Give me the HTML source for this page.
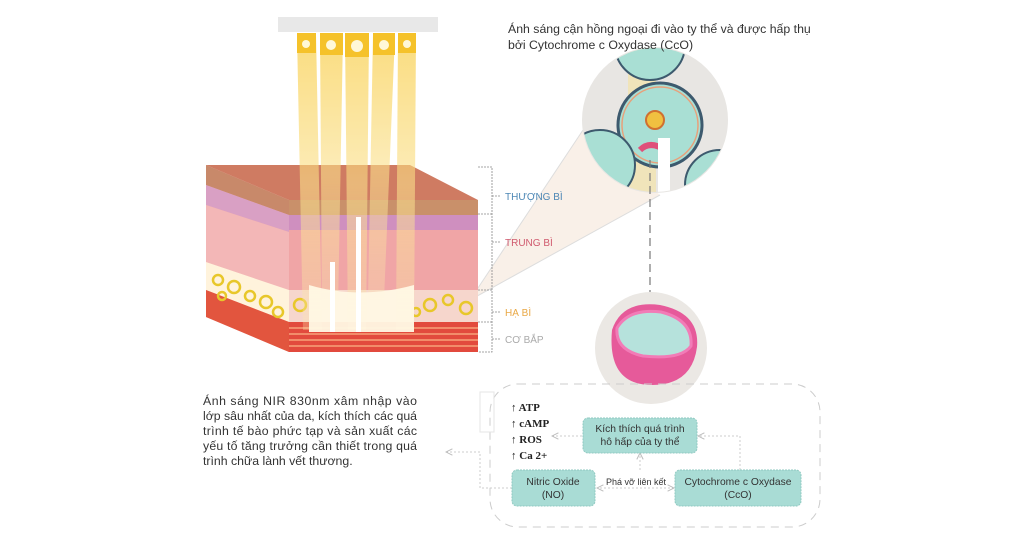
<!DOCTYPE html>
<html><head><meta charset="utf-8"><style>
html,body{margin:0;padding:0;background:#fff;width:1024px;height:541px;overflow:hidden}
svg{display:block}
.t{font-family:"Liberation Sans","DejaVu Sans",sans-serif}
</style></head><body>
<svg width="1024" height="541" viewBox="0 0 1024 541" xmlns="http://www.w3.org/2000/svg">
<defs>
<linearGradient id="beam" x1="0" y1="0" x2="0" y2="1"><stop offset="0" stop-color="#f8c62a"/><stop offset="0.5" stop-color="#fbe08a"/><stop offset="1" stop-color="#fbe7b0" stop-opacity="0.5"/></linearGradient>
<clipPath id="cc"><circle cx="655" cy="120" r="72"/></clipPath>
<clipPath id="mc"><circle cx="651" cy="348" r="56"/></clipPath>
<marker id="ar" viewBox="0 0 10 10" refX="9" refY="5" markerWidth="8" markerHeight="8" orient="auto"><path d="M1,1 L9,5 L1,9" fill="none" stroke="#bbb" stroke-width="1.2"/></marker>
</defs>
<!-- cone -->
<polygon points="470,300 583,130 660,195" fill="#f8ece2" opacity="0.8"/>
<line x1="470" y1="300" x2="583" y2="130" stroke="#ddd" stroke-width="1"/>
<line x1="470" y1="300" x2="660" y2="195" stroke="#ddd" stroke-width="1"/>
<!-- skin cube: left side -->
<polygon points="206,165 289,200 289,352 206,317" fill="#f1a7a5"/>
<polygon points="206,165 289,200 289,215 206,185" fill="#c8896a"/>
<polygon points="206,185 289,215 289,232 206,205" fill="#d9a0c4"/>
<polygon points="206,205 289,232 289,290 206,262" fill="#f3b7b7"/>
<polygon points="206,262 289,290 289,322 206,290" fill="#fff3dc"/>
<polygon points="206,290 289,322 289,352 206,317" fill="#e2553e"/>
<g fill="none" stroke="#e8c72a" stroke-width="2.5"><circle cx="218" cy="280" r="5"/><circle cx="234" cy="287" r="6"/><circle cx="250" cy="296" r="5"/><circle cx="266" cy="302" r="6"/><circle cx="222" cy="296" r="4"/><circle cx="278" cy="312" r="5"/></g>
<!-- top -->
<polygon points="206,165 410,165 478,200 289,200" fill="#cf7b62"/>
<!-- front -->
<rect x="289" y="200" width="189" height="15" fill="#c9906a"/>
<rect x="289" y="215" width="189" height="15" fill="#cf8fbf"/>
<rect x="289" y="230" width="189" height="60" fill="#f0a5a6"/>
<rect x="289" y="290" width="189" height="32" fill="#f6d6cc"/>
<g fill="none" stroke="#e8c72a" stroke-width="2.5"><circle cx="300" cy="305" r="6"/><circle cx="430" cy="305" r="6"/><circle cx="448" cy="300" r="5"/><circle cx="466" cy="308" r="6"/><circle cx="416" cy="312" r="4"/></g>
<rect x="289" y="322" width="189" height="30" fill="#e24a3d"/>
<g stroke="#f7a27a" stroke-width="1.5"><line x1="289" y1="328" x2="478" y2="328"/><line x1="289" y1="334" x2="478" y2="334"/><line x1="289" y1="340" x2="478" y2="340"/><line x1="289" y1="346" x2="478" y2="346"/></g>
<!-- beams -->
<g opacity="0.6">
<polygon points="297,35 316,35 322,330 303,330" fill="url(#beam)"/>
<polygon points="320,35 343,35 338,310 322,310" fill="url(#beam)"/>
<polygon points="345,35 369,35 366,330 348,330" fill="url(#beam)"/>
<polygon points="373,35 395,35 384,300 368,300" fill="url(#beam)"/>
<polygon points="398,35 416,35 414,330 396,330" fill="url(#beam)"/>
</g>
<path d="M309,285 Q360,300 414,285 L414,332 L309,332 Z" fill="#fff8e4" opacity="0.95"/>
<rect x="356" y="217" width="5" height="115" fill="#fff"/>
<rect x="330" y="262" width="5" height="70" fill="#fff"/>
<!-- device -->
<rect x="278" y="17" width="160" height="15" fill="#e8e8e8"/>
<g fill="#f5c22a"><rect x="297" y="33" width="19" height="20"/><rect x="320" y="33" width="23" height="22"/><rect x="345" y="33" width="24" height="24"/><rect x="373" y="33" width="22" height="22"/><rect x="398" y="33" width="18" height="20"/></g>
<g fill="#fff8d8"><circle cx="306" cy="44" r="4"/><circle cx="331" cy="45" r="5"/><circle cx="357" cy="46" r="6"/><circle cx="384" cy="45" r="5"/><circle cx="407" cy="44" r="4"/></g>
<!-- bracket -->
<g stroke="#888" stroke-width="0.8" fill="none" stroke-dasharray="2,1"><path d="M478,167 H492 V352 H478"/><path d="M492,196 H500 M492,242 H500 M492,312 H500 M492,339 H500 M478,214 H492 M478,290 H492 M478,322 H492"/></g>
<g class="t" font-size="10"><text x="505" y="200" fill="#4d87b5">THƯỢNG BÌ</text><text x="505" y="246" fill="#d05a6e">TRUNG BÌ</text><text x="505" y="316" fill="#e9a845">HẠ BÌ</text><text x="505" y="343" fill="#aaa">CƠ BẮP</text></g>
<!-- cell -->
<circle cx="655" cy="120" r="73" fill="#e8e6e3"/>
<g clip-path="url(#cc)">
<rect x="628" y="40" width="28" height="160" fill="#f3e3a8" opacity="0.7"/>
<circle cx="660" cy="125" r="42" fill="#a9dfd4" stroke="#3d5a6e" stroke-width="3"/>
<circle cx="660" cy="125" r="38" fill="none" stroke="#e8a07a" stroke-width="1.5"/>
<circle cx="655" cy="120" r="9" fill="#f0c040" stroke="#d07030" stroke-width="2"/>
<path d="M640,150 q10,-10 25,0" stroke="#e0507a" stroke-width="6" fill="none"/>
<circle cx="600" cy="165" r="35" fill="#a9dfd4" stroke="#3d5a6e" stroke-width="2"/>
<circle cx="720" cy="185" r="35" fill="#a9dfd4" stroke="#3d5a6e" stroke-width="2"/>
<circle cx="650" cy="45" r="35" fill="#a9dfd4" stroke="#3d5a6e" stroke-width="2"/>
<rect x="658" y="138" width="12" height="60" fill="#fff"/>
</g>
<line x1="650" y1="160" x2="650" y2="292" stroke="#777" stroke-width="1.2" stroke-dasharray="8,5"/>
<!-- mito -->
<circle cx="651" cy="348" r="56" fill="#ebe8e4"/>
<g clip-path="url(#mc)">
<path d="M612,330 q10,-30 48,-25 q40,8 37,42 q-5,38 -45,38 q-45,0 -40,-55z" fill="#e65a9a"/>
<path d="M617,328 q12,-20 44,-16 q32,8 30,34 q-10,14 -48,10 q-28,-6 -26,-28z" fill="#b6e2dc" stroke="#f27bb7" stroke-width="3"/>
</g>
<!-- dashed box -->
<rect x="490" y="384" width="330" height="143" rx="28" fill="none" stroke="#ccc" stroke-width="1" stroke-dasharray="8,6"/>
<rect x="480" y="392" width="14" height="40" fill="none" stroke="#e5e5e5"/>
<!-- left text -->
<g class="t" font-size="12.3" fill="#333">
<text x="203" y="405" textLength="214" lengthAdjust="spacing">Ánh sáng NIR 830nm xâm nhập vào</text>
<text x="203" y="420" textLength="214" lengthAdjust="spacing">lớp sâu nhất của da, kích thích các quá</text>
<text x="203" y="435" textLength="214" lengthAdjust="spacing">trình tế bào phức tạp và sản xuất các</text>
<text x="203" y="450" textLength="214" lengthAdjust="spacing">yếu tố tăng trưởng cần thiết trong quá</text>
<text x="203" y="465">trình chữa lành vết thương.</text>
</g>
<!-- top text -->
<g class="t" font-size="12.3" fill="#333"><text x="508" y="33">Ánh sáng cận hồng ngoại đi vào ty thể và được hấp thụ</text><text x="508" y="49">bởi Cytochrome c Oxydase (CcO)</text></g>
<!-- list -->
<g font-family="Liberation Serif,serif" font-size="11" font-weight="bold" fill="#222"><text x="511" y="411">↑ ATP</text><text x="511" y="427">↑ cAMP</text><text x="511" y="443">↑ ROS</text><text x="511" y="459">↑ Ca 2+</text></g>
<!-- connectors -->
<g stroke="#ccc" stroke-width="1" fill="none" stroke-dasharray="2,2">
<path d="M582,436 H552" marker-end="url(#ar)"/>
<path d="M740,470 V436 H698" marker-end="url(#ar)"/>
<path d="M640,470 V453" marker-end="url(#ar)"/>
<path d="M674,488 H597" marker-end="url(#ar)"/>
<path d="M600,488 H674" marker-end="url(#ar)"/>
<path d="M512,488 H480 V452 H446" marker-end="url(#ar)"/>
</g>
<!-- boxes -->
<g stroke="#8fc9c1" stroke-width="1" stroke-dasharray="2,1" fill="#a9dcd5">
<rect x="583" y="418" width="114" height="35" rx="5"/>
<rect x="512" y="470" width="83" height="36" rx="5"/>
<rect x="675" y="470" width="126" height="36" rx="5"/>
</g>
<g class="t" font-size="10.3" fill="#333" text-anchor="middle">
<text x="640" y="432">Kích thích quá trình</text><text x="640" y="445">hô hấp của ty thể</text>
<text x="553" y="485">Nitric Oxide</text><text x="553" y="498">(NO)</text>
<text x="738" y="485">Cytochrome c Oxydase</text><text x="738" y="498">(CcO)</text>
<text x="636" y="485" font-size="9">Phá vỡ liên kết</text>
</g>
</svg>
</body></html>
